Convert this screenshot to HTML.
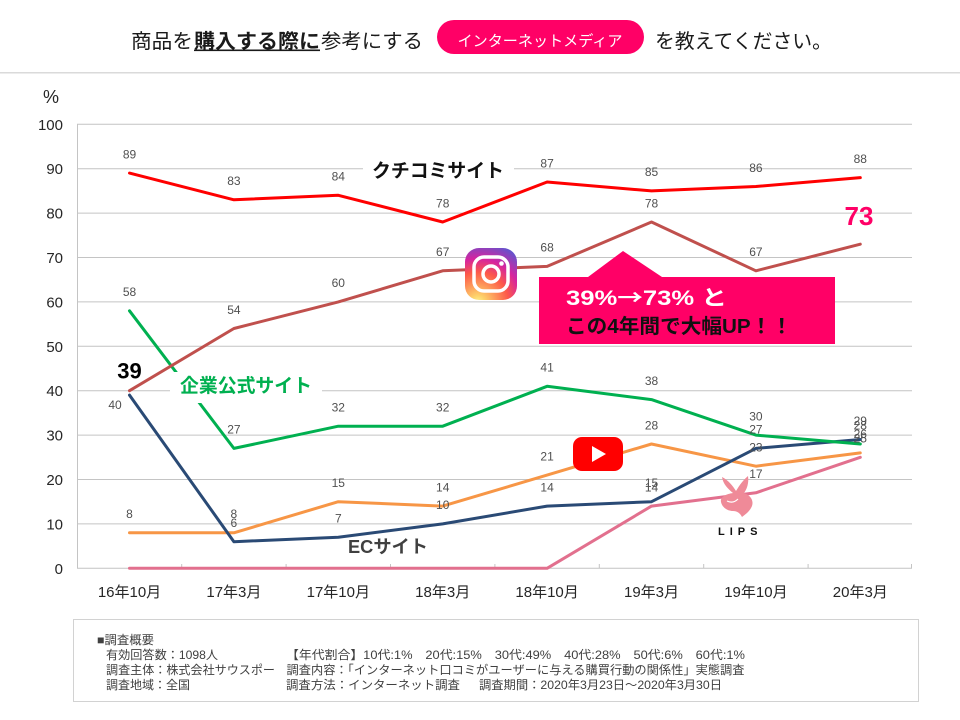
<!DOCTYPE html>
<html><head><meta charset="utf-8"><style>html,body{margin:0;padding:0;background:#fff;}svg{display:block;}</style></head>
<body>
<svg width="960" height="720" viewBox="0 0 960 720" xmlns="http://www.w3.org/2000/svg" font-family="'Liberation Sans','Noto Sans CJK JP',sans-serif">
<defs>
 <radialGradient id="ig" cx="0.25" cy="1.05" r="1.3">
  <stop offset="0" stop-color="#fdf497"/>
  <stop offset="0.1" stop-color="#fdd36a"/>
  <stop offset="0.45" stop-color="#fd5949"/>
  <stop offset="0.65" stop-color="#d6249f"/>
  <stop offset="0.95" stop-color="#4f5bd5"/>
 </radialGradient>
</defs>
<rect width="960" height="720" fill="#fff"/>
<!-- Title -->
<g font-size="20" fill="#1a1a1a">
 <text x="131" y="48" textLength="62" lengthAdjust="spacingAndGlyphs">商品を</text>
 <text x="194" y="48" font-weight="bold" textLength="126" lengthAdjust="spacingAndGlyphs">購入する際に</text>
 <text x="321" y="48" textLength="102" lengthAdjust="spacingAndGlyphs">参考にする</text>
 <text x="655" y="48" textLength="177" lengthAdjust="spacingAndGlyphs">を教えてください。</text>
</g>
<rect x="194" y="49.5" width="126" height="1.6" fill="#1a1a1a"/>
<rect x="437" y="20" width="207" height="34" rx="17" fill="#ff0066"/>
<text x="457.5" y="46" font-size="15" fill="#fff" textLength="165" lengthAdjust="spacingAndGlyphs">インターネットメディア</text>
<rect x="0" y="72" width="960" height="1.5" fill="#dadada"/>

<!-- Grid -->
<g stroke="#c4c4c4" stroke-width="1">
 <line x1="77" x2="912" y1="124.3" y2="124.3"/>
 <line x1="77" x2="912" y1="168.7" y2="168.7"/>
 <line x1="77" x2="912" y1="213.1" y2="213.1"/>
 <line x1="77" x2="912" y1="257.5" y2="257.5"/>
 <line x1="77" x2="912" y1="301.9" y2="301.9"/>
 <line x1="77" x2="912" y1="346.3" y2="346.3"/>
 <line x1="77" x2="912" y1="390.7" y2="390.7"/>
 <line x1="77" x2="912" y1="435.1" y2="435.1"/>
 <line x1="77" x2="912" y1="479.5" y2="479.5"/>
 <line x1="77" x2="912" y1="523.9" y2="523.9"/>
 <line x1="77" x2="912" y1="568.3" y2="568.3"/>
 <line x1="77.5" x2="77.5" y1="124" y2="568.3"/>
 <line x1="181.7" x2="181.7" y1="564" y2="568"/>
 <line x1="286.1" x2="286.1" y1="564" y2="568"/>
 <line x1="390.5" x2="390.5" y1="564" y2="568"/>
 <line x1="494.9" x2="494.9" y1="564" y2="568"/>
 <line x1="599.3" x2="599.3" y1="564" y2="568"/>
 <line x1="703.7" x2="703.7" y1="564" y2="568"/>
 <line x1="808.1" x2="808.1" y1="564" y2="568"/>
 <line x1="911.5" x2="911.5" y1="564" y2="568"/>
</g>
<!-- Y labels -->
<g font-size="15" fill="#262626" text-anchor="end">
 <text x="63" y="130">100</text>
 <text x="63" y="174">90</text>
 <text x="63" y="218.5">80</text>
 <text x="63" y="263">70</text>
 <text x="63" y="307.5">60</text>
 <text x="63" y="352">50</text>
 <text x="63" y="396">40</text>
 <text x="63" y="440.5">30</text>
 <text x="63" y="485">20</text>
 <text x="63" y="529.5">10</text>
 <text x="63" y="574">0</text>
</g>
<text x="43" y="103" font-size="18" fill="#262626">%</text>
<!-- X labels -->
<g font-size="15" fill="#262626" text-anchor="middle">
 <text x="129.5" y="597">16年10月</text>
 <text x="233.9" y="597">17年3月</text>
 <text x="338.3" y="597">17年10月</text>
 <text x="442.7" y="597">18年3月</text>
 <text x="547.1" y="597">18年10月</text>
 <text x="651.5" y="597">19年3月</text>
 <text x="755.9" y="597">19年10月</text>
 <text x="860.3" y="597">20年3月</text>
</g>

<!-- Series -->
<g fill="none" stroke-width="3" stroke-linejoin="round" stroke-linecap="round">
 <polyline stroke="#e2708e" points="129.5,568.3 233.9,568.3 338.3,568.3 442.7,568.3 547.1,568.3 651.5,506.1 755.9,492.8 860.3,457.3"/>
 <polyline stroke="#f79646" points="129.5,532.8 233.9,532.8 338.3,501.7 442.7,506.1 547.1,475.1 651.5,444.0 755.9,466.2 860.3,452.9"/>
 <polyline stroke="#2a4a75" points="129.5,395.1 233.9,541.7 338.3,537.2 442.7,523.9 547.1,506.1 651.5,501.7 755.9,448.4 860.3,439.5"/>
 <polyline stroke="#00b050" points="129.5,310.8 233.9,448.4 338.3,426.2 442.7,426.2 547.1,386.3 651.5,399.6 755.9,435.1 860.3,444.0"/>
 <polyline stroke="#c0504d" points="129.5,390.7 233.9,328.5 338.3,301.9 442.7,270.8 547.1,266.4 651.5,222.0 755.9,270.8 860.3,244.2"/>
 <polyline stroke="#ff0000" points="129.5,173.1 233.9,199.8 338.3,195.3 442.7,222.0 547.1,182.0 651.5,190.9 755.9,186.5 860.3,177.6"/>
</g>

<!-- Series name labels -->
<rect x="363" y="155" width="151" height="31" fill="#fff"/>
<text x="372" y="177" font-size="19" font-weight="bold" fill="#111" textLength="132" lengthAdjust="spacingAndGlyphs">クチコミサイト</text>
<rect x="170" y="372" width="152" height="31" fill="#fff"/>
<text x="180" y="392" font-size="19" font-weight="bold" fill="#00b050" textLength="132" lengthAdjust="spacingAndGlyphs">企業公式サイト</text>
<text x="348" y="553" font-size="18" font-weight="bold" fill="#404040" textLength="80" lengthAdjust="spacingAndGlyphs">ECサイト</text>

<!-- Data labels -->
<g font-size="12" fill="#505050" text-anchor="middle">
 <text x="129.5" y="158.4">89</text>
 <text x="233.9" y="185.1">83</text>
 <text x="338.3" y="180.6">84</text>
 <text x="442.7" y="207.3">78</text>
 <text x="547.1" y="167.3">87</text>
 <text x="651.5" y="176.2">85</text>
 <text x="755.9" y="171.8">86</text>
 <text x="860.3" y="162.9">88</text>

 <text x="115" y="409">40</text>
 <text x="233.9" y="313.8">54</text>
 <text x="338.3" y="287.2">60</text>
 <text x="442.7" y="256.1">67</text>
 <text x="547.1" y="251.7">68</text>
 <text x="651.5" y="207.3">78</text>
 <text x="755.9" y="256.1">67</text>

 <text x="129.5" y="296.1">58</text>
 <text x="233.9" y="433.7">27</text>
 <text x="338.3" y="411.5">32</text>
 <text x="442.7" y="411.5">32</text>
 <text x="547.1" y="371.6">41</text>
 <text x="651.5" y="384.9">38</text>
 <text x="755.9" y="420.4">30</text>
 <text x="860.3" y="429.3">28</text>

 <text x="129.5" y="518.1">8</text>
 <text x="233.9" y="518.1">8</text>
 <text x="338.3" y="487.0">15</text>
 <text x="442.7" y="491.4">14</text>
 <text x="547.1" y="460.4">21</text>
 <text x="651.5" y="429.3">28</text>
 <text x="755.9" y="451.5">23</text>
 <text x="860.3" y="438.2">26</text>

 <text x="233.9" y="527.0">6</text>
 <text x="338.3" y="522.5">7</text>
 <text x="442.7" y="509.2">10</text>
 <text x="547.1" y="491.4">14</text>
 <text x="651.5" y="487.0">15</text>
 <text x="755.9" y="433.7">27</text>
 <text x="860.3" y="424.8">29</text>

 <text x="651.5" y="491.4">14</text>
 <text x="755.9" y="478.1">17</text>
 <text x="860.3" y="442.6">25</text>
</g>
<text x="129.5" y="378.5" font-size="22" font-weight="bold" fill="#000" text-anchor="middle">39</text>
<text x="859" y="225" font-size="26" font-weight="bold" fill="#ff0066" text-anchor="middle">73</text>

<!-- Instagram icon -->
<rect x="465" y="248" width="52" height="52" rx="14" fill="url(#ig)"/>
<rect x="474" y="257" width="34" height="34" rx="10" fill="none" stroke="#fff" stroke-width="3.5"/>
<circle cx="491" cy="274" r="8" fill="none" stroke="#fff" stroke-width="3.5"/>
<circle cx="501.5" cy="263.5" r="2.3" fill="#fff"/>

<!-- YouTube icon -->
<rect x="573" y="437" width="50" height="34" rx="9" fill="#ff0000"/>
<polygon points="592,446 592,462 606,454" fill="#fff"/>

<!-- LIPS icon -->
<path d="M722,477 C728,480 733,486 736,491 C738,488 741,482 748,476 C749,483 747,489 744,493 C750,495 754,500 752,506 C750,511 746,514 742,517 C740,513 737,511 733,511 C727,511 722,507 721,502 C720,497 726,494 733,493 C728,489 723,484 722,477 Z" fill="#ef8a98"/>
<path d="M727,501 C731,503 735,502 738,499" fill="none" stroke="#fff" stroke-width="1.2"/>
<text x="718" y="535" font-size="11" font-weight="bold" fill="#111" letter-spacing="5">LIPS</text>

<!-- Callout -->
<polygon points="539,277 588,277 623,251 662,277 835,277 835,344 539,344" fill="#ff0066"/>
<text x="566" y="305" font-size="21" font-weight="bold" fill="#fff" textLength="161" lengthAdjust="spacingAndGlyphs">39%<tspan font-family="'Noto Sans CJK JP',sans-serif">→</tspan>73% と</text>
<text x="566" y="333" font-size="20" font-weight="bold" fill="#111" textLength="226" lengthAdjust="spacingAndGlyphs">この4年間で大幅UP！！</text>

<!-- Footnote -->
<rect x="73.5" y="619.5" width="845" height="82" fill="none" stroke="#d2d2d2" stroke-width="1"/>
<g font-size="12" fill="#404040">
 <text x="97" y="644" textLength="57" lengthAdjust="spacingAndGlyphs">■調査概要</text>
 <text x="106" y="659" textLength="112" lengthAdjust="spacingAndGlyphs">有効回答数：1098人</text>
 <text x="286" y="659" textLength="459" lengthAdjust="spacingAndGlyphs">【年代割合】10代:1%　20代:15%　30代:49%　40代:28%　50代:6%　60代:1%</text>
 <text x="106" y="674" textLength="169" lengthAdjust="spacingAndGlyphs">調査主体：株式会社サウスポー</text>
 <text x="286.5" y="674" textLength="458" lengthAdjust="spacingAndGlyphs">調査内容：「インターネット口コミがユーザーに与える購買行動の関係性」実態調査</text>
 <text x="106" y="689" textLength="84" lengthAdjust="spacingAndGlyphs">調査地域：全国</text>
 <text x="286" y="689" textLength="174" lengthAdjust="spacingAndGlyphs">調査方法：インターネット調査</text>
 <text x="479" y="689" textLength="243" lengthAdjust="spacingAndGlyphs">調査期間：2020年3月23日～2020年3月30日</text>
</g>
</svg>
</body></html>
